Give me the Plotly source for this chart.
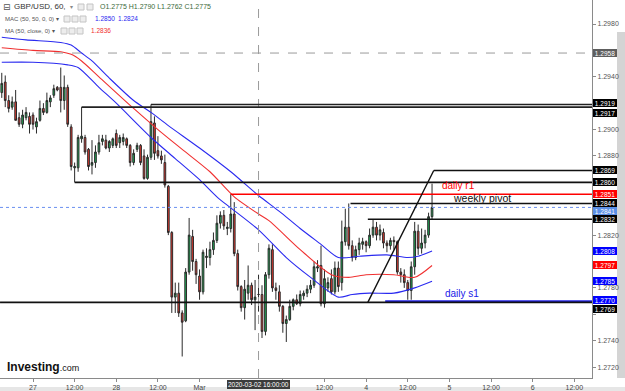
import plotly.graph_objects as go

# ---------------- data ----------------
# hourly GBP/USD bars, bar 0 = 2020-02-26 15:00 (weekend removed)
opens = [1.2928, 1.2936, 1.2922, 1.2917, 1.2921, 1.2909, 1.2904, 1.2909, 1.2910, 1.2911,
         1.2902, 1.2907, 1.2916, 1.2913, 1.2921, 1.2926, 1.2932, 1.2932, 1.2922, 1.2932,
         1.2902, 1.2871, 1.2871, 1.2893, 1.2894, 1.2885, 1.2873, 1.2875, 1.2883, 1.2891,
         1.2892, 1.2886, 1.2888, 1.2897, 1.2890, 1.2891, 1.2893, 1.2888, 1.2875, 1.2885,
         1.2888, 1.2880, 1.2863, 1.2879, 1.2905, 1.2884, 1.2880, 1.2875, 1.2857, 1.2822,
         1.2773, 1.2776, 1.2761, 1.2755, 1.2792, 1.2819, 1.2800, 1.2789, 1.2777, 1.2803,
         1.2803, 1.2809, 1.2816, 1.2829, 1.2835, 1.2825, 1.2825, 1.2836, 1.2806, 1.2781,
         1.2765, 1.2776, 1.2782, 1.2771, 1.2775, 1.2775, 1.2747, 1.2790, 1.2809, 1.2780,
         1.2777, 1.2766, 1.2753, 1.2756, 1.2766, 1.2771, 1.2768, 1.2774, 1.2776, 1.2779,
         1.2782, 1.2795, 1.2797, 1.2768, 1.2780, 1.2787, 1.2777, 1.2795, 1.2784, 1.2815,
         1.2826, 1.2812, 1.2803, 1.2809, 1.2813, 1.2815, 1.2812, 1.2820, 1.2826, 1.2820,
         1.2822, 1.2814, 1.2812, 1.2816, 1.2815, 1.2792, 1.2790, 1.2784, 1.2778, 1.2796,
         1.2823, 1.2810, 1.2814, 1.2820, 1.2834]
highs = [1.2943, 1.2941, 1.2926, 1.2925, 1.2930, 1.2913, 1.2915, 1.2917, 1.2913, 1.2913,
         1.2909, 1.2922, 1.2920, 1.2928, 1.2926, 1.2934, 1.2933, 1.2947, 1.2941, 1.2934,
         1.2904, 1.2875, 1.2896, 1.2917, 1.2896, 1.2886, 1.2892, 1.2888, 1.2896, 1.2896,
         1.2896, 1.2892, 1.2894, 1.2900, 1.2896, 1.2897, 1.2894, 1.2889, 1.2885, 1.2890,
         1.2889, 1.2885, 1.2881, 1.2919, 1.2910, 1.2895, 1.2884, 1.2881, 1.2858, 1.2823,
         1.2784, 1.2784, 1.2763, 1.2795, 1.2833, 1.2824, 1.2802, 1.2794, 1.2809, 1.2810,
         1.2815, 1.2822, 1.2835, 1.2838, 1.2839, 1.2830, 1.2851, 1.2845, 1.2809, 1.2782,
         1.2786, 1.2797, 1.2784, 1.2786, 1.2790, 1.2782, 1.2792, 1.2813, 1.2813, 1.2784,
         1.2782, 1.2767, 1.2759, 1.2771, 1.2772, 1.2775, 1.2778, 1.2778, 1.2782, 1.2786,
         1.2800, 1.2801, 1.2812, 1.2794, 1.2788, 1.2794, 1.2800, 1.2800, 1.2831, 1.2840,
         1.2844, 1.2816, 1.2812, 1.2818, 1.2818, 1.2816, 1.2825, 1.2832, 1.2830, 1.2828,
         1.2825, 1.2816, 1.2818, 1.2819, 1.2816, 1.2795, 1.2794, 1.2786, 1.2800, 1.2830,
         1.2828, 1.2825, 1.2824, 1.2837, 1.2859]
lows = [1.2924, 1.2917, 1.2913, 1.2915, 1.2907, 1.2902, 1.2901, 1.2907, 1.2897, 1.2900,
        1.2897, 1.2906, 1.2911, 1.2912, 1.2917, 1.2924, 1.2929, 1.2913, 1.2915, 1.2902,
        1.2869, 1.2860, 1.2868, 1.2890, 1.2881, 1.2869, 1.2866, 1.2871, 1.2881, 1.2888,
        1.2885, 1.2883, 1.2886, 1.2886, 1.2886, 1.2888, 1.2886, 1.2872, 1.2873, 1.2883,
        1.2873, 1.2862, 1.2862, 1.2877, 1.2877, 1.2878, 1.2874, 1.2856, 1.2820, 1.2761,
        1.2761, 1.2758, 1.2728, 1.2754, 1.2790, 1.2793, 1.2783, 1.2771, 1.2775, 1.2795,
        1.2797, 1.2805, 1.2814, 1.2825, 1.2824, 1.2820, 1.2822, 1.2804, 1.2778, 1.2762,
        1.2756, 1.2771, 1.2767, 1.2748, 1.2762, 1.2742, 1.2744, 1.2787, 1.2777, 1.2771,
        1.2762, 1.2746, 1.2739, 1.2755, 1.2763, 1.2767, 1.2766, 1.2771, 1.2773, 1.2776,
        1.2780, 1.2792, 1.2766, 1.2765, 1.2777, 1.2775, 1.2775, 1.2777, 1.2778, 1.2812,
        1.2809, 1.2800, 1.2801, 1.2805, 1.2809, 1.2807, 1.2810, 1.2818, 1.2816, 1.2816,
        1.2810, 1.2807, 1.2809, 1.2809, 1.2790, 1.2784, 1.2780, 1.2771, 1.2771, 1.2790,
        1.2805, 1.2806, 1.2810, 1.2818, 1.2832]
closes = [1.2935, 1.2922, 1.2916, 1.2921, 1.2907, 1.2904, 1.2911, 1.2913, 1.2904, 1.2904,
          1.2906, 1.2916, 1.2913, 1.2922, 1.2924, 1.2931, 1.2930, 1.2922, 1.2932, 1.2904,
          1.2872, 1.2872, 1.2894, 1.2895, 1.2883, 1.2872, 1.2875, 1.2883, 1.2890, 1.2893,
          1.2886, 1.2891, 1.2893, 1.2888, 1.2894, 1.2894, 1.2888, 1.2875, 1.2882, 1.2888,
          1.2875, 1.2863, 1.2879, 1.2906, 1.2882, 1.2880, 1.2877, 1.2858, 1.2822, 1.2773,
          1.2776, 1.2761, 1.2754, 1.2792, 1.2820, 1.2800, 1.2790, 1.2777, 1.2807, 1.2804,
          1.2809, 1.2816, 1.2829, 1.2835, 1.2827, 1.2826, 1.2836, 1.2806, 1.2781, 1.2765,
          1.2779, 1.2782, 1.2771, 1.2773, 1.2775, 1.2747, 1.2790, 1.2810, 1.2780, 1.2778,
          1.2766, 1.2753, 1.2756, 1.2766, 1.2771, 1.2768, 1.2775, 1.2776, 1.2779, 1.2782,
          1.2796, 1.2796, 1.2768, 1.2787, 1.2784, 1.2777, 1.2795, 1.2781, 1.2815, 1.2826,
          1.2812, 1.2803, 1.2809, 1.2814, 1.2815, 1.2812, 1.2820, 1.2826, 1.2820, 1.2824,
          1.2814, 1.2812, 1.2816, 1.2815, 1.2792, 1.2790, 1.2784, 1.2778, 1.2796, 1.2823,
          1.2810, 1.2814, 1.2820, 1.2834, 1.2841]
bar_index = list(range(len(opens)))

# MAC (50,50) envelope and MA(50)
mac_up_idx = [0, 7, 17, 20, 23, 26, 31, 38, 43, 48, 57, 66, 74, 80, 86, 92, 97, 103, 111, 117, 120, 124]
mac_up = [1.2970, 1.2968, 1.2966, 1.2964, 1.2958, 1.2952, 1.2939, 1.2922, 1.2913, 1.2903, 1.2886,
          1.2868, 1.2850, 1.2838, 1.2825, 1.2813, 1.2803, 1.2804, 1.2805, 1.2803, 1.2804, 1.2808]
ma_idx = [0, 9, 17, 20, 23, 28, 38, 45, 52, 60, 67, 74, 77, 86, 95, 100, 105, 113, 119, 124]
ma_vals = [1.2962, 1.2960, 1.2959, 1.2957, 1.2952, 1.2940, 1.2916, 1.2900, 1.2885, 1.2868, 1.2849,
           1.2836, 1.2831, 1.2809, 1.2790, 1.2788, 1.2790, 1.2790, 1.2788, 1.2797]
mac_lo_idx = [0, 9, 19, 22, 28, 33, 43, 50, 57, 62, 74, 82, 89, 97, 101, 106, 113, 119, 124]
mac_lo = [1.2951, 1.2951, 1.2949, 1.2947, 1.2932, 1.2920, 1.2894, 1.2878, 1.2862, 1.2849, 1.2824,
          1.2803, 1.2788, 1.2773, 1.2775, 1.2776, 1.2776, 1.2780, 1.2785]

# drawn horizontal levels: price, starting bar, colour
level_prices = [1.2919, 1.2917, 1.2869, 1.2860, 1.2851, 1.2844, 1.2832, 1.2770, 1.2769]
level_start = [43, 23, 124.5, 21, 66, 100.5, 105.5, 110.5, -0.5]
level_colors = ["#222", "#222", "#111", "#111", "#ff0000", "#111", "#111", "#2020e8", "#111"]
trend_x = [105.5, 124.5]
trend_y = [1.2769, 1.2869]

crosshair_bar = 74
crosshair_price = 1.2958
last_price = 1.2841

level_text = ["daily r1", "weekly pivot", "daily s1"]
level_text_x = [126.6, 129.7, 127.4]
level_text_y = [1.28574, 1.28481, 1.27761]
level_text_color = ["#ff0000", "#111111", "#2020e8"]
level_text_size = [10, 10.5, 10]

axis_label_prices = [1.2958, 1.2919, 1.2917, 1.2869, 1.2860, 1.2851, 1.2844, 1.2841, 1.2832,
                     1.2808, 1.2797, 1.2785, 1.2770, 1.2769]
axis_label_colors = ["#5e5e5e", "#000", "#000", "#000", "#000", "#ff0000", "#000", "#5b8fe6", "#000",
                     "#0000ff", "#ff0000", "#0000ff", "#0000ff", "#000"]
axis_label_shift = [0, 1, -6, 0, 0, 0, 0, -4, 0, 0, 0, 0, 1, -7]

# right price scale: every 0.002, labels hidden where the reference covers them with price boxes
y_ticks = [1.2720, 1.2740, 1.2760, 1.2780, 1.2800, 1.2820, 1.2840, 1.2860, 1.2880, 1.2900,
           1.2920, 1.2940, 1.2960, 1.2980]
y_tick_text = ["1.2720", "1.2740", "", "1.2780", "", "1.2820", "", "", "1.2880", "1.2900",
               "", "1.2940", "", "1.2980"]

# time scale: labels under the crosshair date box are covered in the reference
tick_bars = [9, 21, 33, 45, 57, 69, 81, 93, 105, 117, 129, 141, 153, 165]
tick_text = ["27", "12:00", "28", "12:00", "Mar", "", "", "12:00", "4", "12:00", "5", "12:00", "6", "12:00"]

X_RANGE = [-0.51, 170.1]
Y_RANGE = [1.27117, 1.29982]

W, H = 625, 391
ML, MR, MT, MB = 0, 33, 0, 13
PW, PH = W - ML - MR, H - MT - MB
FONT = "Arial, Liberation Sans, sans-serif"


def px(x):
    return (x - ML) / PW


def py(y):
    return 1 - (y - MT) / PH


fig = go.Figure()

fig.add_trace(go.Candlestick(
    x=bar_index, open=opens, high=highs, low=lows, close=closes,
    increasing=dict(line=dict(color="#2a2a2a", width=1), fillcolor="#1fae56"),
    decreasing=dict(line=dict(color="#2a2a2a", width=1), fillcolor="#e8392f"),
    whiskerwidth=0, showlegend=False, hoverinfo="skip"))

for xs, ys, col in [(mac_up_idx, mac_up, "#2a2af0"), (ma_idx, ma_vals, "#f03030"), (mac_lo_idx, mac_lo, "#2a2af0")]:
    fig.add_trace(go.Scatter(x=xs, y=ys, mode="lines", showlegend=False, hoverinfo="skip",
                             line=dict(color=col, width=1.1, shape="spline", smoothing=0.7)))

shapes = []
# crosshair + last price
shapes.append(dict(type="line", xref="x", yref="y", x0=X_RANGE[0], x1=X_RANGE[1], y0=crosshair_price,
                   y1=crosshair_price, line=dict(color="#9a9a9a", width=1, dash="dash")))
shapes.append(dict(type="line", xref="x", yref="paper", x0=crosshair_bar, x1=crosshair_bar, y0=0, y1=1,
                   line=dict(color="#9a9a9a", width=1, dash="dash")))
shapes.append(dict(type="line", xref="x", yref="y", x0=X_RANGE[0], x1=X_RANGE[1], y0=last_price,
                   y1=last_price, line=dict(color="#6a8ff0", width=1, dash="dot")))
for p, s, c in zip(level_prices, level_start, level_colors):
    shapes.append(dict(type="line", xref="x", yref="y", x0=s, x1=X_RANGE[1], y0=p, y1=p,
                       line=dict(color=c, width=1.6)))
shapes.append(dict(type="line", xref="x", yref="y", x0=trend_x[0], x1=trend_x[1], y0=trend_y[0],
                   y1=trend_y[1], line=dict(color="#111", width=1.4)))
# scrollbar and bottom strip of the widget
shapes.append(dict(type="rect", xref="paper", yref="paper", x0=px(617), x1=px(625), y0=py(378), y1=py(32),
                   fillcolor="#d4d4d4", line=dict(width=0), layer="below"))
shapes.append(dict(type="rect", xref="paper", yref="paper", x0=px(0), x1=px(625), y0=py(391), y1=py(387),
                   fillcolor="#e6e6e6", line=dict(width=0), layer="below"))
# legend icon boxes
for bx, by in [(78, 7), (87, 7), (64, 19), (72, 19), (80, 19), (61, 31), (69, 31), (77, 31)]:
    shapes.append(dict(type="rect", xref="paper", yref="paper", x0=px(bx), x1=px(bx + 6), y0=py(by + 3),
                       y1=py(by - 3), fillcolor="#ededed", line=dict(color="#c4c4c4", width=1)))

ann = []
for t, x, y, c, s in zip(level_text, level_text_x, level_text_y, level_text_color, level_text_size):
    ann.append(dict(text=t, x=x, y=y, xref="x", yref="y", xanchor="left", yanchor="middle", showarrow=False,
                    borderpad=0, font=dict(family=FONT, size=s, color=c)))

for p, c, sh in zip(axis_label_prices, axis_label_colors, axis_label_shift):
    ann.append(dict(text=f"{p:.4f}", x=1, y=p, xref="paper", yref="y", xanchor="left", yanchor="middle",
                    xshift=1, yshift=sh, showarrow=False, bgcolor=c, borderpad=1, borderwidth=0,
                    width=22, height=6, font=dict(family=FONT, size=6.5, color="white")))

ann.append(dict(text="2020-03-02 16:00:00", x=crosshair_bar, y=py(384), xref="x", yref="paper",
                xanchor="center", yanchor="middle", showarrow=False, bgcolor="#3c3c3c", borderpad=1,
                borderwidth=0, font=dict(family=FONT, size=6.5, color="white")))

# legend header texts
ann.append(dict(text="⊟", x=px(1), y=py(7), xref="paper", yref="paper", xanchor="left", yanchor="middle",
                showarrow=False, font=dict(family="DejaVu Sans", size=9, color="#555")))
ann.append(dict(text="GBP/USD, 60,", x=px(12), y=py(7), xref="paper", yref="paper", xanchor="left",
                yanchor="middle", showarrow=False, font=dict(family=FONT, size=8, color="#333")))
ann.append(dict(text="▾", x=px(68), y=py(7), xref="paper", yref="paper", xanchor="left", yanchor="middle",
                showarrow=False, font=dict(family="DejaVu Sans", size=6, color="#888")))
ohlc_txt = f"O{opens[crosshair_bar]:.4f} H{highs[crosshair_bar]:.4f} L{lows[crosshair_bar]:.4f} C{closes[crosshair_bar]:.4f}"
ann.append(dict(text=ohlc_txt, x=px(98), y=py(7), xref="paper", yref="paper", xanchor="left",
                yanchor="middle", showarrow=False, font=dict(family=FONT, size=7, color="#3a6a3a")))
ann.append(dict(text="MAC (50, 50, 0, 0) ▾", x=px(3), y=py(19), xref="paper", yref="paper", xanchor="left",
                yanchor="middle", showarrow=False, font=dict(family=FONT, size=6, color="#555")))
ann.append(dict(text="1.2850", x=px(93), y=py(19), xref="paper", yref="paper", xanchor="left",
                yanchor="middle", showarrow=False, font=dict(family=FONT, size=6.5, color="#2a2af0")))
ann.append(dict(text="1.2824", x=px(116), y=py(19), xref="paper", yref="paper", xanchor="left",
                yanchor="middle", showarrow=False, font=dict(family=FONT, size=6.5, color="#2a2af0")))
ann.append(dict(text="MA (50, close, 0) ▾", x=px(3), y=py(31), xref="paper", yref="paper", xanchor="left",
                yanchor="middle", showarrow=False, font=dict(family=FONT, size=6, color="#555")))
ann.append(dict(text="1.2836", x=px(89), y=py(31), xref="paper", yref="paper", xanchor="left",
                yanchor="middle", showarrow=False, font=dict(family=FONT, size=6.5, color="#f03030")))
# logo
ann.append(dict(text="<b>Investing</b><span style='font-size:9px'>.com</span>", x=px(5), y=py(367),
                xref="paper", yref="paper", xanchor="left", yanchor="middle", showarrow=False,
                font=dict(family=FONT, size=12, color="#111")))

fig.update_layout(
    width=W, height=H, margin=dict(l=ML, r=MR, t=MT, b=MB, autoexpand=False),
    paper_bgcolor="white", plot_bgcolor="white", showlegend=False,
    shapes=shapes, annotations=ann, hovermode=False,
    xaxis=dict(range=X_RANGE, rangeslider=dict(visible=False), showgrid=False, zeroline=False,
               showline=True, linecolor="#8a8a8a", linewidth=1, ticks="outside", ticklen=3,
               tickcolor="#8a8a8a", tickvals=tick_bars, ticktext=tick_text,
               tickfont=dict(family=FONT, size=7, color="#444"), automargin=False, fixedrange=True),
    yaxis=dict(range=Y_RANGE, side="right", showgrid=False, zeroline=False, showline=True,
               linecolor="#8a8a8a", linewidth=1, ticks="outside", ticklen=3, tickcolor="#8a8a8a",
               tickvals=y_ticks, ticktext=y_tick_text,
               tickfont=dict(family=FONT, size=7, color="#555"), automargin=False, fixedrange=True),
)

fig.write_html("out.html", config={"displayModeBar": False})
